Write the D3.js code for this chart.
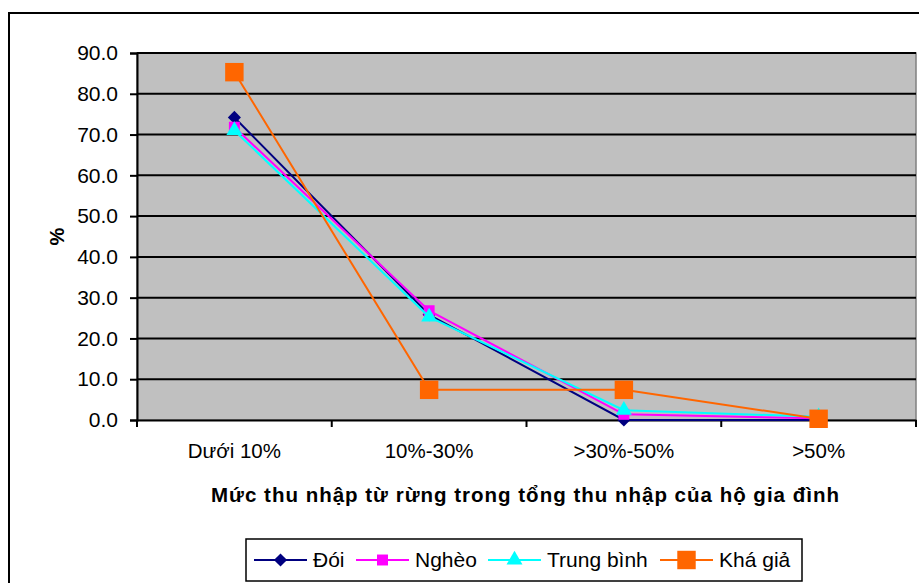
<!DOCTYPE html>
<html><head><meta charset="utf-8">
<script src="https://cdn.jsdelivr.net/npm/d3@7"></script>
<style>body{margin:0;background:#fff}svg{display:block;font-family:"Liberation Sans",Arial,sans-serif}</style>
</head><body>
<svg id="c" width="919" height="583"></svg>
<script>
const categories = ["Dưới 10%", "10%-30%", ">30%-50%", ">50%"];
const seriesNames = ["Đói", "Nghèo", "Trung bình", "Khá giả"];
const doi = [74.2, 25.8, 0.0, 0.0];
const ngheo = [71.8, 26.8, 1.4, 0.4];
const trungBinh = [71.0, 25.3, 2.4, 0.8];
const khaGia = [85.3, 7.4, 7.4, 0.3];
const yTicks = [0, 10, 20, 30, 40, 50, 60, 70, 80, 90];
const xTitle = "Mức thu nhập từ rừng trong tổng thu nhập của hộ gia đình";
const yTitle = "%";

const series = [
  {name: seriesNames[0], values: doi, color: "#000080", marker: "diamond", size: 110},
  {name: seriesNames[1], values: ngheo, color: "#FF00FF", marker: "square", size: 120},
  {name: seriesNames[2], values: trungBinh, color: "#00FFFF", marker: "triangle", size: 110},
  {name: seriesNames[3], values: khaGia, color: "#FF6600", marker: "square", size: 340}
];
const symType = {diamond: d3.symbolDiamond2 || d3.symbolDiamond, square: d3.symbolSquare, triangle: d3.symbolTriangle};
const FF = "Liberation Sans, Arial, sans-serif";

const svg = d3.select("#c");
const L = 137, R = 916, T = 53, B = 420;

// outer frame
svg.append("rect").attr("x", 9).attr("y", 13).attr("width", 930).attr("height", 600)
  .attr("fill", "none").attr("stroke", "#000").attr("stroke-width", 2);

const x = d3.scaleBand().domain(categories).range([L, R]).padding(0);
const y = d3.scaleLinear().domain([0, 90]).range([B, T]);

// plot background
svg.append("rect").attr("x", L).attr("y", T).attr("width", R - L).attr("height", B - T)
  .attr("fill", "#C0C0C0").attr("stroke", "#808080").attr("stroke-width", 1.5);

// gridlines
svg.append("g").selectAll("line").data(yTicks.filter(d => d > 0)).join("line")
  .attr("x1", L).attr("x2", R).attr("y1", d => y(d)).attr("y2", d => y(d))
  .attr("stroke", "#000").attr("stroke-width", 2);

// y axis
const yAxis = svg.append("g").attr("transform", `translate(${L},0)`)
  .call(d3.axisLeft(y).tickValues(yTicks).tickFormat(d3.format(".1f")).tickSize(7).tickPadding(12));
yAxis.select(".domain").attr("stroke", "#000").attr("stroke-width", 2);
yAxis.selectAll(".tick line").attr("stroke", "#000").attr("stroke-width", 2);
yAxis.selectAll("text").attr("font-size", 21).attr("fill", "#000").attr("font-family", FF);

// x axis
const xAxis = svg.append("g").attr("transform", `translate(0,${B})`)
  .call(d3.axisBottom(x).tickSize(0).tickPadding(23));
xAxis.select(".domain").attr("stroke", "#000").attr("stroke-width", 2);
xAxis.selectAll("text").attr("font-size", 20.5).attr("fill", "#000").attr("font-family", FF);
// category boundary ticks
const bounds = categories.map(c => x(c)).concat([R]);
svg.append("g").selectAll("line").data(bounds).join("line")
  .attr("x1", d => d).attr("x2", d => d).attr("y1", B).attr("y2", B + 7)
  .attr("stroke", "#000").attr("stroke-width", 2);

// titles
svg.append("text").attr("x", (L + R) / 2 - 1).attr("y", 502).attr("text-anchor", "middle")
  .attr("font-size", 20.5).attr("font-weight", "bold").attr("letter-spacing", 1.0).text(xTitle);
svg.append("text").attr("transform", `translate(64,${(T + B) / 2}) rotate(-90)`).attr("text-anchor", "middle")
  .attr("font-size", 20).attr("font-weight", "bold").text(yTitle);

// lines & markers
const line = d3.line().x((d, i) => x(categories[i]) + x.bandwidth() / 2).y(d => y(d));
series.forEach(s => {
  const g = svg.append("g");
  g.append("path").attr("d", line(s.values)).attr("fill", "none").attr("stroke", s.color).attr("stroke-width", 2);
  g.selectAll("path.m").data(s.values).join("path").attr("class", "m")
    .attr("transform", (d, i) => `translate(${x(categories[i]) + x.bandwidth() / 2},${y(d)})`)
    .attr("d", d3.symbol().type(symType[s.marker]).size(s.size)).attr("fill", s.color);
});

// legend
const lg = svg.append("g");
lg.append("rect").attr("x", 246).attr("y", 539).attr("width", 556).attr("height", 42)
  .attr("fill", "#fff").attr("stroke", "#000").attr("stroke-width", 1.5);
const legendX = [254, 356, 488, 660];
series.forEach((s, i) => {
  const gx = legendX[i], gy = 560;
  lg.append("line").attr("x1", gx).attr("x2", gx + 53).attr("y1", gy).attr("y2", gy)
    .attr("stroke", s.color).attr("stroke-width", 2);
  lg.append("path").attr("transform", `translate(${gx + 26.5},${gy})`)
    .attr("d", d3.symbol().type(symType[s.marker]).size(s.size)).attr("fill", s.color);
  lg.append("text").attr("x", gx + 59).attr("y", gy + 7).attr("font-size", 21).attr("font-family", FF).text(s.name);
});
</script>
</body></html>
